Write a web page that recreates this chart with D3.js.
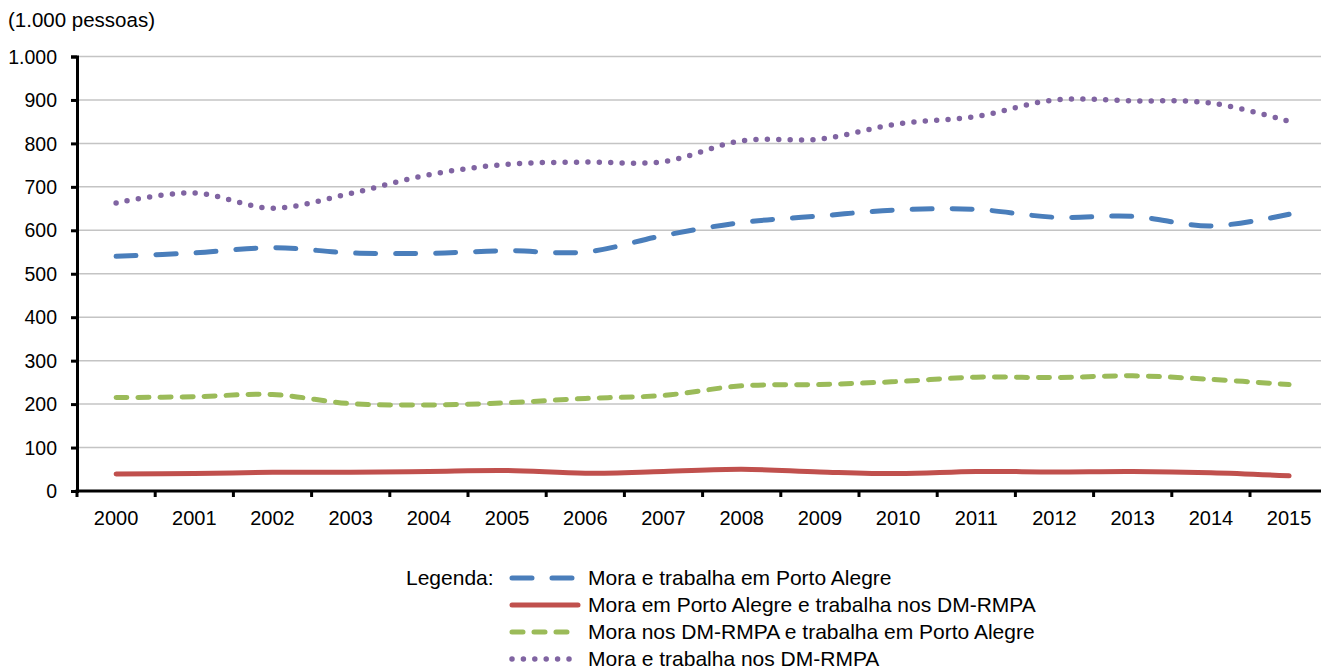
<html>
<head>
<style>
  body { margin: 0; background: #fff; }
  svg text { font-family: "Liberation Sans", Arial, sans-serif; fill: #000; }
</style>
</head>
<body>
<svg id="chart"></svg>
<script src="https://cdn.jsdelivr.net/npm/d3@7"></script>
<script>
var years = ["2000","2001","2002","2003","2004","2005","2006","2007","2008","2009","2010","2011","2012","2013","2014","2015"];
var yTicks = [0, 100, 200, 300, 400, 500, 600, 700, 800, 900, 1000];

var moraTrabPOA   = [540, 548, 560, 548, 547, 553, 550, 588, 618, 633, 647, 648, 630, 632, 610, 637];
var moraPOATrabDM = [39, 40, 43, 43, 45, 47, 41, 45, 50, 44, 40, 45, 44, 45, 42, 35];
var moraDMTrabPOA = [215, 217, 222, 201, 198, 203, 213, 220, 242, 245, 252, 262, 261, 265, 257, 245];
var moraTrabDM    = [663, 686, 651, 685, 728, 752, 757, 758, 806, 810, 845, 862, 900, 898, 893, 851];

var seriesNames = [
  "Mora e trabalha em Porto Alegre",
  "Mora em Porto Alegre e trabalha nos DM-RMPA",
  "Mora nos DM-RMPA e trabalha em Porto Alegre",
  "Mora e trabalha nos DM-RMPA"
];

var chartW = 1321, chartH = 670;
var svg = d3.select("#chart").attr("width", chartW).attr("height", chartH);

var plotLeft = 77, plotTop = 56.5, plotBottom = 491;
var x = d3.scaleBand().domain(years).range([plotLeft, plotLeft + 16 * 78.2]).padding(0);
var y = d3.scaleLinear().domain([0, 1000]).range([plotBottom, plotTop]);

// gridlines
svg.append("g").selectAll("line")
  .data(yTicks.filter(d => d > 0))
  .enter().append("line")
  .attr("x1", plotLeft).attr("x2", chartW)
  .attr("y1", d => y(d)).attr("y2", d => y(d))
  .attr("stroke", "#c4c4c4").attr("stroke-width", 1.5);

// title
svg.append("text").attr("x", 8).attr("y", 27).attr("font-size", 20.5).text("(1.000 pessoas)");

// y axis
var fmt = d => d === 1000 ? "1.000" : String(d);
var yAxis = svg.append("g")
  .attr("transform", "translate(" + plotLeft + ",0)")
  .call(d3.axisLeft(y).tickValues(yTicks).tickFormat(fmt).tickSize(6).tickPadding(14));
yAxis.select(".domain").attr("stroke", "#000").attr("stroke-width", 3);
yAxis.selectAll(".tick line").attr("stroke", "#000").attr("stroke-width", 3);
yAxis.selectAll(".tick text").attr("font-size", 19.5).attr("dy", "0.34em");

// x axis
var xAxis = svg.append("g")
  .attr("transform", "translate(0," + plotBottom + ")")
  .call(d3.axisBottom(x).tickSize(0).tickPadding(20));
xAxis.select(".domain").remove();
xAxis.selectAll(".tick text").attr("font-size", 20);
svg.append("line")
  .attr("x1", plotLeft - 1.5).attr("x2", chartW)
  .attr("y1", plotBottom).attr("y2", plotBottom)
  .attr("stroke", "#000").attr("stroke-width", 3);
svg.append("g").selectAll("line")
  .data(years)
  .enter().append("line")
  .attr("x1", d => x(d)).attr("x2", d => x(d))
  .attr("y1", plotBottom).attr("y2", plotBottom + 6)
  .attr("stroke", "#000").attr("stroke-width", 3);

// series
var series = [
  { name: seriesNames[0], values: moraTrabPOA,   color: "#4a7ebb", dash: "20,20", width: 5 },
  { name: seriesNames[1], values: moraPOATrabDM, color: "#c0504d", dash: null,    width: 5 },
  { name: seriesNames[2], values: moraDMTrabPOA, color: "#9bbb59", dash: "11,11", width: 5 },
  { name: seriesNames[3], values: moraTrabDM,    color: "#8064a2", dash: "0,11.4", width: 5.5 }
];

var line = d3.line()
  .x((d, i) => x(years[i]) + x.bandwidth() / 2)
  .y(d => y(d))
  .curve(d3.curveCatmullRom.alpha(0.5));

svg.append("g").selectAll("path")
  .data(series)
  .enter().append("path")
  .attr("d", d => line(d.values))
  .attr("fill", "none")
  .attr("stroke", d => d.color)
  .attr("stroke-width", d => d.width)
  .attr("stroke-linecap", "round")
  .attr("stroke-dasharray", d => d.dash);

// legend
var legend = svg.append("g");
legend.append("text").attr("x", 406).attr("y", 585).attr("font-size", 21).text("Legenda:");
var rows = legend.selectAll("g.row")
  .data(series)
  .enter().append("g")
  .attr("transform", (d, i) => "translate(0," + (585 + i * 27) + ")");
rows.append("line")
  .attr("x1", 512)
  .attr("x2", 578)
  .attr("y1", -7).attr("y2", -7)
  .attr("stroke", d => d.color)
  .attr("stroke-width", d => d.width)
  .attr("stroke-linecap", "round")
  .attr("stroke-dasharray", d => d.dash);
rows.append("text").attr("x", 588).attr("y", 0).attr("font-size", 21).text(d => d.name);
</script>
</body>
</html>
